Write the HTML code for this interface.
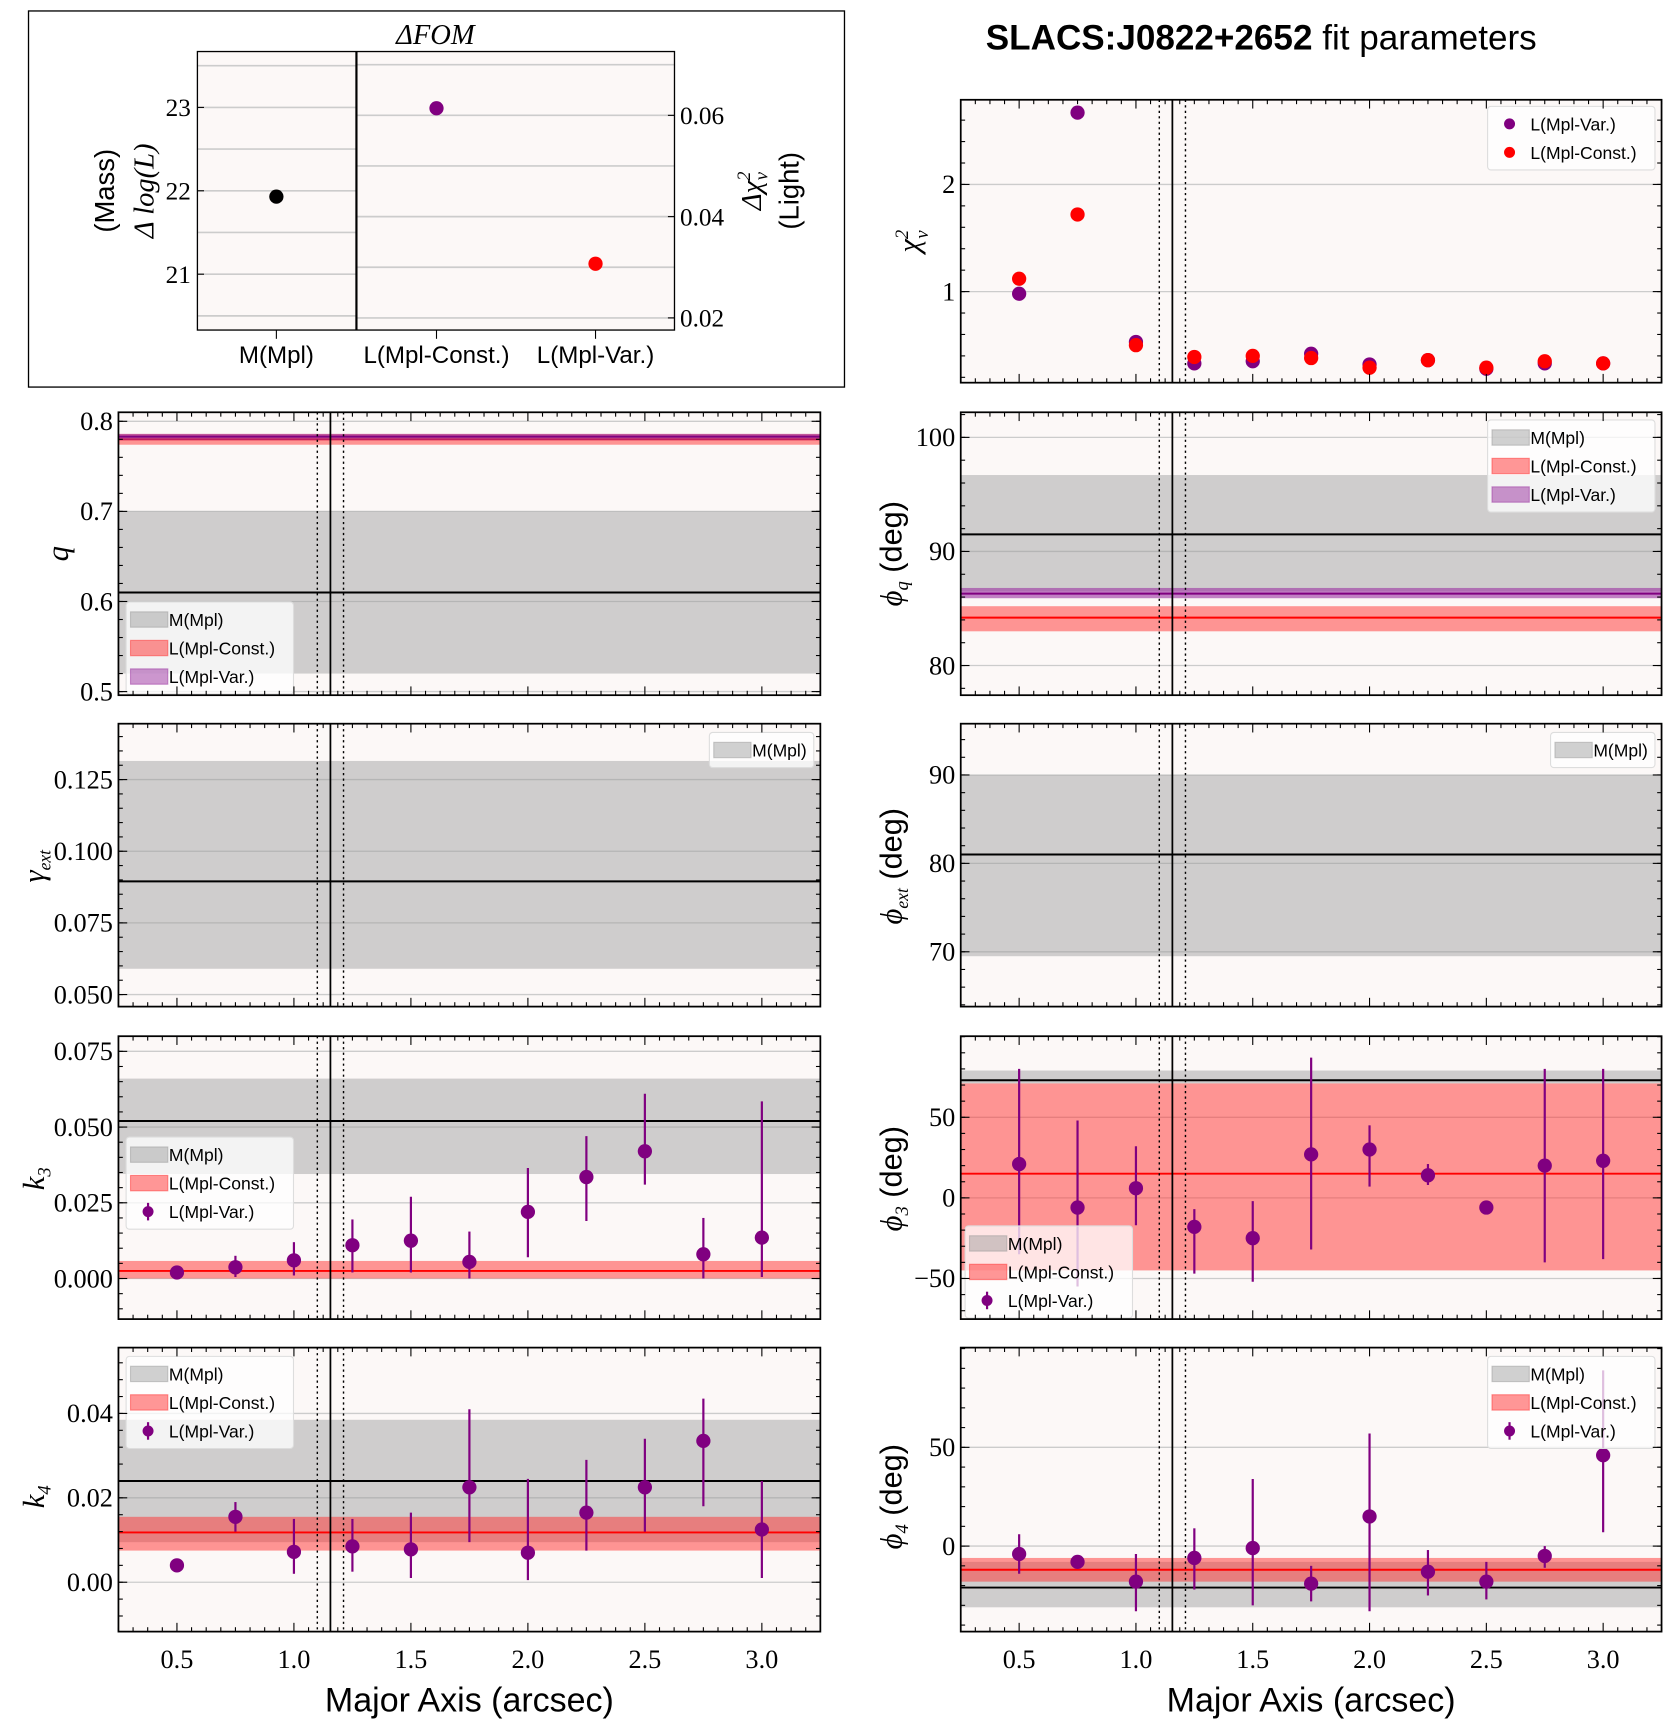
<!DOCTYPE html>
<html><head><meta charset="utf-8">
<style>
html,body{margin:0;padding:0;background:#fff;}
svg{display:block;}
text{font-family:"Liberation Sans","DejaVu Sans",sans-serif;}
.ser{font-family:"Liberation Serif","DejaVu Serif",serif;}
</style></head>
<body>
<svg id="fig" width="1678" height="1727" viewBox="0 0 1530 1575" preserveAspectRatio="none" xmlns="http://www.w3.org/2000/svg"></svg>
<script>
// ---- data ----
const majorAxis = [0.5,0.75,1.0,1.25,1.5,1.75,2.0,2.25,2.5,2.75,3.0];
const chiVar   = [0.98,2.67,0.53,0.33,0.35,0.42,0.32,0.36,0.28,0.33,0.33];
const chiConst = [1.12,1.72,0.50,0.39,0.40,0.38,0.29,0.36,0.29,0.35,0.33];
const k3Val = [0.002,0.0037,0.006,0.011,0.0125,0.0055,0.022,0.0335,0.042,0.008,0.0135];
const k3Lo  = [0.0005,0.0005,0.001,0.002,0.002,0.000,0.007,0.019,0.031,0.000,0.0005];
const k3Hi  = [0.0035,0.0075,0.012,0.0195,0.027,0.0155,0.0365,0.047,0.061,0.020,0.0585];
const phi3Val = [21,-6,6,-18,-25,27,30,14,-6,20,23];
const phi3Lo  = [-35,-55,-17,-47,-52,-32,7,8,-9,-40,-38];
const phi3Hi  = [80,48,32,-7,-2,87,45,21,-3,80,80];
const k4Val = [0.004,0.0155,0.0072,0.0085,0.0078,0.0225,0.007,0.0165,0.0225,0.0335,0.0125];
const k4Lo  = [0.0025,0.012,0.002,0.0025,0.001,0.0095,0.0005,0.0075,0.012,0.018,0.001];
const k4Hi  = [0.0055,0.019,0.015,0.015,0.0165,0.041,0.0245,0.029,0.034,0.0435,0.024];
const phi4Val = [-4,-8,-18,-6,-1,-19,15,-13,-18,-5,46];
const phi4Lo  = [-14,-10,-33,-22,-30,-28,-33,-25,-27,-11,7];
const phi4Hi  = [6,-6,-4,9,34,-10,57,-2,-8,0,89];
// bands: [low, center, high]
const qMpl = [0.52,0.61,0.70], qConst=[0.774,0.780,0.786], qVar=[0.779,0.783,0.786];
const phiqMpl=[86.5,91.5,96.7], phiqConst=[83,84.2,85.2], phiqVar=[85.9,86.3,86.8];
const gamMpl=[0.059,0.0895,0.1315];
const phiextMpl=[69.5,81,90];
const k3Mpl=[0.0345,0.052,0.066], k3Const=[0.0,0.0025,0.0058];
const phi3Mpl=[71,73,79], phi3Const=[-45,15,71];
const k4Mpl=[0.0095,0.024,0.0385], k4Const=[0.0075,0.0118,0.0155];
const phi4Mpl=[-31,-21,-8], phi4Const=[-18,-12,-6];
const fomCats=['M(Mpl)','L(Mpl-Const.)','L(Mpl-Var.)'];
const fomMass=[21.93];
const fomLight=[0.0614,0.0307];
const xTicks=[0.5,1.0,1.5,2.0,2.5,3.0];
const xTickLabels=['0.5','1.0','1.5','2.0','2.5','3.0'];
const vSolid=1.156, vDot1=1.10, vDot2=1.212;

const NS='http://www.w3.org/2000/svg';
const svg=document.getElementById('fig');
function el(tag,attrs,parent,txt){const e=document.createElementNS(NS,tag);for(const k in attrs)e.setAttribute(k,attrs[k]);if(txt!==undefined)e.textContent=txt;(parent||svg).appendChild(e);return e;}
const PURPLE='#800080', RED='#ff0000', BG='#fcf8f7';

function panel(name,x0,y0,x1,y1,ymin,ymax,yticks,ylabels,minorStep){
  const g=el('g',{});
  
  
  const sx=v=>x0+(v-0.25)/3.0*(x1-x0);
  const sy=v=>y1-(v-ymin)/(ymax-ymin)*(y1-y0);
  el('rect',{x:x0,y:y0,width:x1-x0,height:y1-y0,fill:BG},g);
  const gg=el('g',{},g);
  yticks.forEach(t=>el('line',{x1:x0,x2:x1,y1:sy(t),y2:sy(t),stroke:'#cccccc','stroke-width':1.2},gg));
  return {g,sx,sy,x0,x1,y0,y1,gg,name,yticks,ylabels,minorStep,ymin,ymax};
}
function finishPanel(p,showX){
  const {g,sx,sy,x0,x1,y0,y1}=p;
  [[vDot1,'2,3'],[vDot2,'2,3'],[vSolid,null]].forEach(([v,d])=>{const a={x1:sx(v),x2:sx(v),y1:y0,y2:y1,stroke:'#000','stroke-width':d?1.3:1.6};if(d)a['stroke-dasharray']=d;el('line',a,g);});
  el('rect',{x:x0,y:y0,width:x1-x0,height:y1-y0,fill:'none',stroke:'#000','stroke-width':1.6},g);
  for(let v=0.25;v<=3.25+1e-6;v+=0.0625){const X=sx(v);const maj=Math.abs(v*2-Math.round(v*2))<1e-6;const L=maj?8:4;
    el('line',{x1:X,x2:X,y1:y1,y2:y1-L,stroke:'#000','stroke-width':1},g);el('line',{x1:X,x2:X,y1:y0,y2:y0+L,stroke:'#000','stroke-width':1},g);}
  const m=p.minorStep;
  for(let v=Math.ceil(p.ymin/m)*m;v<=p.ymax;v+=m){const Y=sy(v);el('line',{x1:x0,x2:x0+4,y1:Y,y2:Y,stroke:'#000'},g);el('line',{x1:x1,x2:x1-4,y1:Y,y2:Y,stroke:'#000'},g);}
  p.yticks.forEach((t,i)=>{const Y=sy(t);el('line',{x1:x0,x2:x0+8,y1:Y,y2:Y,stroke:'#000'},g);el('line',{x1:x1,x2:x1-8,y1:Y,y2:Y,stroke:'#000'},g);
    const tx=el('text',{x:x0-5,y:Y+8,'text-anchor':'end','font-size':24,class:'ser'},g,p.ylabels[i]);
    
    });
  if(showX){xTicks.forEach((t,i)=>{const tx=el('text',{x:sx(t),y:y1+33,'text-anchor':'middle','font-size':24,class:'ser'},g,xTickLabels[i]);
    
    });
    const xl=el('text',{x:(x0+x1)/2,y:y1+73,'text-anchor':'middle','font-size':31},g,'Major Axis (arcsec)');
    
    }
}
function band(p,b,fill,op,line,bname){
  const {sx,sy}=p;
  const r=el('rect',{x:p.x0,width:p.x1-p.x0,y:sy(b[2]),height:sy(b[0])-sy(b[2]),fill:fill,'fill-opacity':op},p.g);
  
  
  const l=el('line',{x1:p.x0,x2:p.x1,y1:sy(b[1]),y2:sy(b[1]),stroke:line,'stroke-width':1.8},p.g);
  
  
}
function errpts(p,vals,lo,hi){
  vals.forEach((v,i)=>{const X=p.sx(majorAxis[i]);
    const l=el('line',{x1:X,x2:X,y1:p.sy(lo[i]),y2:p.sy(hi[i]),stroke:PURPLE,'stroke-width':2},p.g);
    
    
    const c=el('circle',{cx:X,cy:p.sy(v),r:6.5,fill:PURPLE},p.g);
    
    });
}
function legend(p,x,y,entries,right){
  const w=Math.max(...entries.map(e=>e[1].length))*8.2+46, h=entries.length*26+6;
  if(right) x=p.x1-w-6;
  const g=el('g',{},p.g);
  
  
  el('rect',{x:x,y:y,width:w,height:h,rx:3,fill:'#ffffff','fill-opacity':0.75,stroke:'#dddddd'},g);
  entries.forEach((e,i)=>{const cy=y+16+i*26;
    if(e[0]==='pt'){el('line',{x1:x+20,x2:x+20,y1:cy-8,y2:cy+8,stroke:e[2],'stroke-width':2},g);el('circle',{cx:x+20,cy:cy,r:5,fill:e[2]},g);}
    else if(e[0]==='dot'){el('circle',{cx:x+20,cy:cy,r:5,fill:e[2]},g);}
    else el('rect',{x:x+4,y:cy-7,width:34,height:14,fill:e[2],'fill-opacity':e[3],stroke:e[2],'stroke-opacity':0.5},g);
    const t=el('text',{x:x+39,y:cy+6,'font-size':16},g,e[1]);
    
    });
}
function ylabel(x,y,txt,name,size){
  const t=el('text',{x:0,y:0,transform:`translate(${x},${y}) rotate(-90)`,'text-anchor':'middle','font-size':size||28,class:'ser','font-style':'italic'},svg);
  t.innerHTML=txt;
  
  
}
const LX0=108,LX1=748,RX0=876,RX1=1515;
const ROWS=[[376,634],[660,918],[945,1203],[1229,1488]];
const Lm=['band','M(Mpl)','#999999',0.45], Lc=['band','L(Mpl-Const.)','#ff3030',0.5], Lv=['band','L(Mpl-Var.)','#9a30a0',0.5], Lp=['pt','L(Mpl-Var.)',PURPLE];

// chi2
let p=panel('chi2',RX0,91,RX1,349,0.15,2.79,[1,2],['1','2'],0.2);
majorAxis.forEach((x,i)=>{const c=el('circle',{cx:p.sx(x),cy:p.sy(chiVar[i]),r:6.5,fill:PURPLE},p.g);});
majorAxis.forEach((x,i)=>{const c=el('circle',{cx:p.sx(x),cy:p.sy(chiConst[i]),r:6.5,fill:RED},p.g);});
legend(p,0,97,[['dot','L(Mpl-Var.)',PURPLE],['dot','L(Mpl-Const.)',RED]],true);
finishPanel(p,false);
ylabel(838,220,'χ<tspan font-size="17" dy="-10">2</tspan><tspan font-size="17" dy="18" dx="-8">ν</tspan>','chi2-y-title');

// q
p=panel('q',LX0,ROWS[0][0],LX1,ROWS[0][1],0.496,0.81,[0.5,0.6,0.7,0.8],['0.5','0.6','0.7','0.8'],0.02);
band(p,qMpl,'#999',0.45,'#000','q-mpl');band(p,qConst,'#ff3030',0.5,RED,'q-const');band(p,qVar,'#9a30a0',0.6,PURPLE,'q-var');
legend(p,115,549,[Lm,Lc,Lv]);finishPanel(p,false);
ylabel(62,505,'q','q-y-title');

// phi_q
p=panel('phiq',RX0,ROWS[0][0],RX1,ROWS[0][1],77.4,102.2,[80,90,100],['80','90','100'],2);
band(p,phiqMpl,'#999',0.45,'#000','phiq-mpl');band(p,phiqConst,'#ff3030',0.5,RED,'phiq-const');band(p,phiqVar,'#9a30a0',0.6,PURPLE,'phiq-var');
legend(p,0,383,[Lm,Lc,Lv],true);finishPanel(p,false);
ylabel(822,505,'ϕ<tspan font-size="17" dy="6">q</tspan><tspan font-style="normal" font-family="Liberation Sans" dy="-6"> (deg)</tspan>','phiq-y-title');

// gamma
p=panel('gamma',LX0,ROWS[1][0],LX1,ROWS[1][1],0.0458,0.1445,[0.05,0.075,0.1,0.125],['0.050','0.075','0.100','0.125'],0.005);
band(p,gamMpl,'#999',0.45,'#000','gamma-mpl');legend(p,0,668,[Lm],true);finishPanel(p,false);
ylabel(40,790,'γ<tspan font-size="16" dy="6">ext</tspan>','gamma-y-title');

// phi_ext
p=panel('phiext',RX0,ROWS[1][0],RX1,ROWS[1][1],63.8,95.8,[70,80,90],['70','80','90'],2);
band(p,phiextMpl,'#999',0.45,'#000','phiext-mpl');legend(p,0,668,[Lm],true);finishPanel(p,false);
ylabel(822,790,'ϕ<tspan font-size="16" dy="6">ext</tspan><tspan font-style="normal" font-family="Liberation Sans" dy="-6"> (deg)</tspan>','phiext-y-title');

// k3
p=panel('k3',LX0,ROWS[2][0],LX1,ROWS[2][1],-0.0134,0.080,[0,0.025,0.05,0.075],['0.000','0.025','0.050','0.075'],0.005);
band(p,k3Mpl,'#999',0.45,'#000','k3-mpl');band(p,k3Const,'#ff3030',0.5,RED,'k3-const');errpts(p,k3Val,k3Lo,k3Hi);
legend(p,115,1037,[Lm,Lc,Lp]);finishPanel(p,false);
ylabel(40,1075,'k<tspan font-size="17" dy="6">3</tspan>','k3-y-title');

// phi3
p=panel('phi3',RX0,ROWS[2][0],RX1,ROWS[2][1],-75.2,100.3,[-50,0,50],['−50','0','50'],10);
band(p,phi3Mpl,'#999',0.45,'#000','phi3-mpl');band(p,phi3Const,'#ff3030',0.5,RED,'phi3-const');errpts(p,phi3Val,phi3Lo,phi3Hi);
legend(p,880,1118,[Lm,Lc,Lp]);finishPanel(p,false);
ylabel(822,1075,'ϕ<tspan font-size="17" dy="6">3</tspan><tspan font-style="normal" font-family="Liberation Sans" dy="-6"> (deg)</tspan>','phi3-y-title');

// k4
p=panel('k4',LX0,ROWS[3][0],LX1,ROWS[3][1],-0.0117,0.0556,[0,0.02,0.04],['0.00','0.02','0.04'],0.004);
band(p,k4Mpl,'#999',0.45,'#000','k4-mpl');band(p,k4Const,'#ff3030',0.5,RED,'k4-const');errpts(p,k4Val,k4Lo,k4Hi);
legend(p,115,1237,[Lm,Lc,Lp]);finishPanel(p,true);
ylabel(40,1365,'k<tspan font-size="17" dy="6">4</tspan>','k4-y-title');

// phi4
p=panel('phi4',RX0,ROWS[3][0],RX1,ROWS[3][1],-43.3,100.5,[0,50],['0','50'],10);
band(p,phi4Mpl,'#999',0.45,'#000','phi4-mpl');band(p,phi4Const,'#ff3030',0.5,RED,'phi4-const');errpts(p,phi4Val,phi4Lo,phi4Hi);
legend(p,0,1237,[Lm,Lc,Lp],true);finishPanel(p,true);
ylabel(822,1365,'ϕ<tspan font-size="17" dy="6">4</tspan><tspan font-style="normal" font-family="Liberation Sans" dy="-6"> (deg)</tspan>','phi4-y-title');

// title
const tt=el('text',{x:1150,y:45,'text-anchor':'middle','font-size':32,'font-family':'DejaVu Sans'},svg);
tt.innerHTML='<tspan font-weight="bold">SLACS:J0822+2652</tspan> fit parameters';



// FOM box
const fb=el('rect',{x:26,y:10,width:744,height:343,fill:'#fff',stroke:'#000','stroke-width':1.2});


const FX0=180,FX1=615,FD=325,FY0=47,FY1=301;
const mY=v=>FY1-(v-20.33)/(23.67-20.33)*(FY1-FY0);
const lY=v=>FY1-(v-0.0176)/(0.0726-0.0176)*(FY1-FY0);
el('rect',{x:FX0,y:FY0,width:FX1-FX0,height:FY1-FY0,fill:BG});
[20.5,21,21.5,22,22.5,23,23.5].forEach(v=>el('line',{x1:FX0,x2:FD,y1:mY(v),y2:mY(v),stroke:'#ccc','stroke-width':1.5}));
[0.02,0.03,0.04,0.05,0.06,0.07].forEach(v=>el('line',{x1:FD,x2:FX1,y1:lY(v),y2:lY(v),stroke:'#ccc','stroke-width':1.5}));
el('line',{x1:FD,x2:FD,y1:FY0,y2:FY1,stroke:'#000','stroke-width':2});
el('rect',{x:FX0,y:FY0,width:FX1-FX0,height:FY1-FY0,fill:'none',stroke:'#000','stroke-width':1.2});
const fomX=[252,398,543];
let c=el('circle',{cx:fomX[0],cy:mY(fomMass[0]),r:6.5,fill:'#000'});


c=el('circle',{cx:fomX[1],cy:lY(fomLight[0]),r:6.5,fill:PURPLE});


c=el('circle',{cx:fomX[2],cy:lY(fomLight[1]),r:6.5,fill:RED});


[21,22,23].forEach(v=>{el('line',{x1:FX0,x2:FX0+6,y1:mY(v),y2:mY(v),stroke:'#000'});const t=el('text',{x:FX0-6,y:mY(v)+8,'text-anchor':'end','font-size':23,class:'ser'},svg,String(v));});
[0.02,0.04,0.06].forEach(v=>{el('line',{x1:FX1,x2:FX1-6,y1:lY(v),y2:lY(v),stroke:'#000'});const t=el('text',{x:FX1+5,y:lY(v)+8,'font-size':23,class:'ser'},svg,v.toFixed(2));});
fomCats.forEach((s,i)=>{el('line',{x1:fomX[i],x2:fomX[i],y1:FY1,y2:FY1+8,stroke:'#000'});const t=el('text',{x:fomX[i],y:FY1+30,'text-anchor':'middle','font-size':22},svg,s);});
const ft=el('text',{x:397,y:40,'text-anchor':'middle','font-size':26,class:'ser','font-style':'italic'},svg,'ΔFOM');


let t=el('text',{transform:'translate(104,174) rotate(-90)','text-anchor':'middle','font-size':25},svg,'(Mass)');


t=el('text',{transform:'translate(140,174) rotate(-90)','text-anchor':'middle','font-size':26,class:'ser','font-style':'italic'},svg);
t.innerHTML='Δ log(L)';


t=el('text',{transform:'translate(694,174) rotate(-90)','text-anchor':'middle','font-size':26,class:'ser','font-style':'italic'},svg);
t.innerHTML='Δχ<tspan font-size="17" dy="-10">2</tspan><tspan font-size="17" dy="16" dx="-8">ν</tspan>';


t=el('text',{transform:'translate(728,174) rotate(-90)','text-anchor':'middle','font-size':25},svg,'(Light)');


</script>
</body></html>
